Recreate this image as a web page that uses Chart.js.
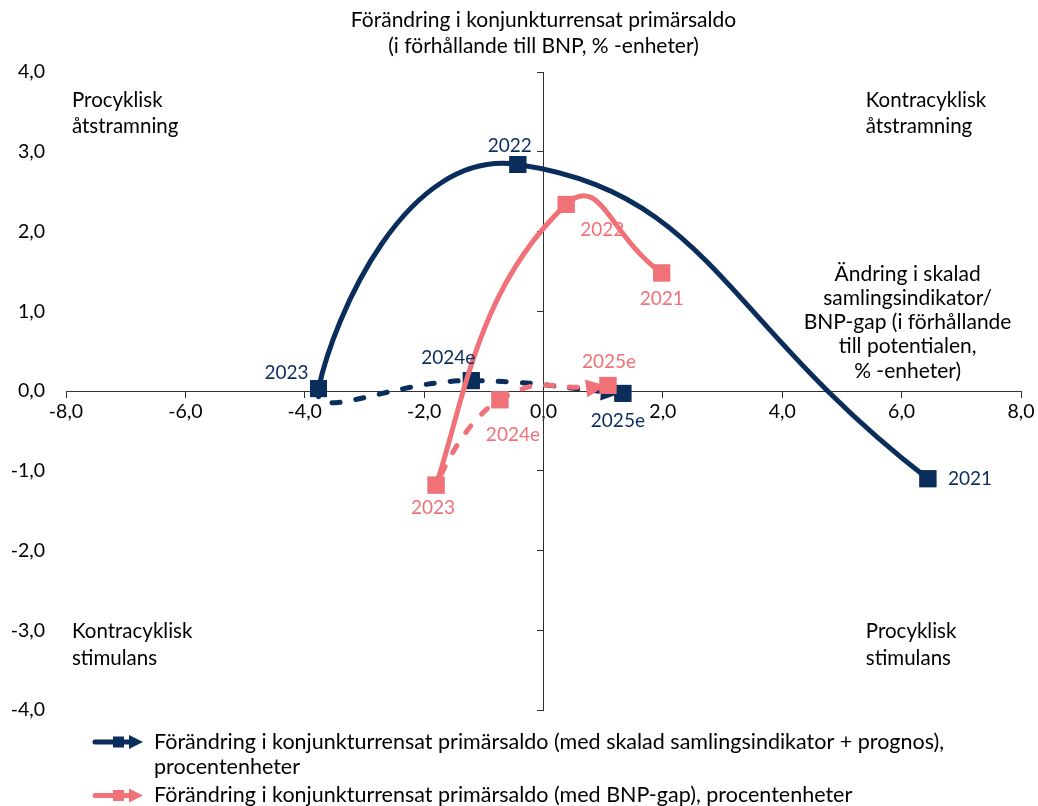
<!DOCTYPE html>
<html>
<head>
<meta charset="utf-8">
<script src="https://cdn.jsdelivr.net/npm/chart.js@4/dist/chart.umd.min.js"></script>
<style>
  html, body { margin: 0; padding: 0; background: #ffffff; }
  #wrap { width: 1038px; height: 806px; }
</style>
</head>
<body>
<div id="wrap"><canvas id="chart" width="1038" height="806"></canvas></div>
<script>
// Years along each path; the last two are forecasts
const years = ['2021', '2022', '2023', '2024e', '2025e'];
const forecastStart = 2; // segments from this index onward are dashed

// Scaled composite indicator path (x: change in indicator, y: change in primary balance)
const indicatorX = [6.44, -0.43, -3.77, -1.21, 1.33];
const indicatorY = [-1.10, 2.84, 0.03, 0.13, -0.03];

// Output-gap path
const gapX = [1.98, 0.38, -1.80, -0.73, 1.08];
const gapY = [1.48, 2.34, -1.18, -0.11, 0.07];

// Axis ranges and steps
const xTickValues = [-8, -6, -4, -2, 0, 2, 4, 6, 8];
const yTickValues = [-4, -3, -2, -1, 0, 1, 2, 3, 4];

// Texts
const indicatorName = ['Förändring i konjunkturrensat primärsaldo (med skalad samlingsindikator + prognos),', 'procentenheter'];
const gapName = ['Förändring i konjunkturrensat primärsaldo (med BNP-gap), procentenheter'];
const yTitle = ['Förändring i konjunkturrensat primärsaldo', '(i förhållande till BNP, % -enheter)'];
const xTitle = ['Ändring i skalad', 'samlingsindikator/', 'BNP-gap (i förhållande', 'till potentialen,', '% -enheter)'];
const quadrants = [
  { x: -7.9, y: 3.65, lines: ['Procyklisk', 'åtstramning'] },
  { x: 5.4, y: 3.65, lines: ['Kontracyklisk', 'åtstramning'] },
  { x: -7.9, y: -3.02, lines: ['Kontracyklisk', 'stimulans'] },
  { x: 5.4, y: -3.02, lines: ['Procyklisk', 'stimulans'] }
];

const NAVY = '#0b2d5b';
const PINK = '#f07178';
const AXIS = '#303030';
const FONT = 'Lato, "Open Sans", sans-serif';
const FS_TICK = 19.5;
const FS_YEAR = 19;
const FS_TEXT = 20.5;
const FS_TITLE = 21;
const FS_LEGEND = 21.5;

// Placement of the year label around each marker (pixel offsets)
const indicatorLabelPos = [
  { dx: 20, dy: 0, align: 'left' },
  { dx: -8, dy: -19, align: 'center' },
  { dx: -32, dy: -16, align: 'center' },
  { dx: -23, dy: -23, align: 'center' },
  { dx: -5, dy: 27, align: 'center' }
];
const gapLabelPos = [
  { dx: 0, dy: 26, align: 'center' },
  { dx: 36, dy: 25, align: 'center' },
  { dx: -3, dy: 23, align: 'center' },
  { dx: 13, dy: 35, align: 'center' },
  { dx: 1, dy: -24, align: 'center' }
];

const fmt = v => v.toFixed(1).replace('.', ',');
const toPoints = (xs, ys) => xs.map((x, i) => ({ x: x, y: ys[i] }));

function drawArrow(ctx, x, y, angle, len, half, color) {
  ctx.save();
  ctx.translate(x, y);
  ctx.rotate(angle);
  ctx.beginPath();
  ctx.moveTo(0, 0);
  ctx.lineTo(-len, -half);
  ctx.lineTo(-len, half);
  ctx.closePath();
  ctx.fillStyle = color;
  ctx.fill();
  ctx.restore();
}

// Arrowhead at the end of each path, then markers redrawn on top of it
const arrowPlugin = {
  id: 'pathArrows',
  afterDatasetDraw(chart, args) {
    const meta = args.meta;
    const ds = chart.data.datasets[args.index];
    const pts = meta.data;
    const last = pts[pts.length - 1];
    const ctx = chart.ctx;
    let ax = last.cp1x, ay = last.cp1y;
    if (ax === undefined || (Math.abs(ax - last.x) < 0.5 && Math.abs(ay - last.y) < 0.5)) {
      ax = pts[pts.length - 2].x; ay = pts[pts.length - 2].y;
    }
    const ang = Math.atan2(last.y - ay, last.x - ax);
    drawArrow(ctx, last.x - 2 * Math.cos(ang), last.y - 2 * Math.sin(ang), ang, 20, 9, ds.borderColor);
    pts.forEach(p => p.draw(ctx, chart.chartArea));
  }
};

// Year labels, quadrant texts, axis titles and legend
const textPlugin = {
  id: 'chartTexts',
  afterDraw(chart) {
    const ctx = chart.ctx;
    const xs = chart.scales.x, ys = chart.scales.y;
    ctx.save();
    ctx.textBaseline = 'middle';

    // year labels
    ctx.font = FS_YEAR + 'px ' + FONT;
    const sets = [
      { idx: 0, pos: indicatorLabelPos, color: NAVY },
      { idx: 1, pos: gapLabelPos, color: PINK }
    ];
    sets.forEach(s => {
      const meta = chart.getDatasetMeta(s.idx);
      meta.data.forEach((p, i) => {
        ctx.fillStyle = s.color;
        ctx.textAlign = s.pos[i].align;
        ctx.fillText(years[i], p.x + s.pos[i].dx, p.y + s.pos[i].dy);
      });
    });

    // quadrant descriptions
    ctx.font = FS_TEXT + 'px ' + FONT;
    ctx.fillStyle = '#000';
    ctx.textAlign = 'left';
    quadrants.forEach(q => {
      const px = xs.getPixelForValue(q.x), py = ys.getPixelForValue(q.y);
      q.lines.forEach((t, i) => ctx.fillText(t, px, py + i * 26.5));
    });

    // vertical-axis title above the plot
    ctx.font = FS_TITLE + 'px ' + FONT;
    ctx.textAlign = 'center';
    const cx = xs.getPixelForValue(0);
    yTitle.forEach((t, i) => ctx.fillText(t, cx, chart.chartArea.top - 52 + i * 26));

    // horizontal-axis title on the right
    const rx = xs.getPixelForValue(6.1), ry = ys.getPixelForValue(1.47);
    xTitle.forEach((t, i) => ctx.fillText(t, rx, ry + i * 24.3));

    // legend
    ctx.font = FS_LEGEND + 'px ' + FONT;
    const legendRows = [
      { lines: indicatorName, color: NAVY },
      { lines: gapName, color: PINK }
    ];
    let ly = chart.chartArea.bottom + 32;
    legendRows.forEach(r => {
      ctx.strokeStyle = r.color;
      ctx.fillStyle = r.color;
      ctx.lineWidth = 5;
      ctx.lineCap = 'round';
      ctx.beginPath();
      ctx.moveTo(95, ly);
      ctx.lineTo(130, ly);
      ctx.stroke();
      ctx.fillRect(113, ly - 5.5, 11, 11);
      drawArrow(ctx, 143, ly, 0, 14, 7, r.color);
      ctx.fillStyle = '#000';
      ctx.textAlign = 'left';
      r.lines.forEach((t, i) => ctx.fillText(t, 154, ly + i * 25.5));
      ly += r.lines.length * 25.5 + 2.5;
    });
    ctx.restore();
  }
};

const baseDataset = {
  showLine: true,
  borderWidth: 5,
  tension: 0.5,
  borderCapStyle: 'round',
  borderJoinStyle: 'round',
  pointStyle: 'rect',
  pointRadius: 12,
  pointHoverRadius: 12,
  pointBorderWidth: 0,
  xAxisID: 'x',
  yAxisID: 'y',
  segment: {
    borderDash: ctx => (ctx.p0DataIndex >= forecastStart ? [8, 16] : undefined)
  }
};

new Chart(document.getElementById('chart'), {
  type: 'scatter',
  data: {
    datasets: [
      Object.assign({}, baseDataset, {
        label: indicatorName.join(' '),
        data: toPoints(indicatorX, indicatorY),
        borderColor: NAVY,
        backgroundColor: NAVY,
        order: 1
      }),
      Object.assign({}, baseDataset, {
        label: gapName.join(' '),
        data: toPoints(gapX, gapY),
        borderColor: PINK,
        backgroundColor: PINK,
        tension: 0.55,
        order: 0
      })
    ]
  },
  options: {
    responsive: false,
    animation: false,
    devicePixelRatio: 1,
    events: [],
    layout: { padding: { top: 72, right: 17, bottom: 96, left: 0 } },
    plugins: { legend: { display: false }, tooltip: { enabled: false } },
    scales: {
      x: {
        type: 'linear',
        min: xTickValues[0],
        max: xTickValues[xTickValues.length - 1],
        position: { y: 0 },
        afterBuildTicks: s => { s.ticks = xTickValues.map(v => ({ value: v })); },
        ticks: {
          callback: v => fmt(v),
          font: { family: FONT, size: FS_TICK },
          color: '#000',
          padding: 3,
          maxRotation: 0,
          autoSkip: false
        },
        grid: { drawOnChartArea: false, drawTicks: true, tickLength: 6, color: AXIS, lineWidth: 1 },
        border: { display: true, color: AXIS, width: 1 }
      },
      y: {
        type: 'linear',
        min: yTickValues[0],
        max: yTickValues[yTickValues.length - 1],
        position: { x: 0 },
        afterBuildTicks: s => { s.ticks = yTickValues.map(v => ({ value: v })); },
        ticks: { display: false },
        grid: { drawOnChartArea: false, drawTicks: true, tickLength: 6, color: AXIS, lineWidth: 1 },
        border: { display: true, color: AXIS, width: 1 }
      },
      yl: {
        type: 'linear',
        axis: 'y',
        min: yTickValues[0],
        max: yTickValues[yTickValues.length - 1],
        position: 'left',
        afterBuildTicks: s => { s.ticks = yTickValues.map(v => ({ value: v })); },
        afterFit: s => { s.width = 66; },
        ticks: {
          callback: v => fmt(v),
          font: { family: FONT, size: FS_TICK },
          color: '#000',
          padding: 21
        },
        grid: { display: false, drawTicks: false },
        border: { display: false }
      }
    }
  },
  plugins: [arrowPlugin, textPlugin]
});
</script>
</body>
</html>
